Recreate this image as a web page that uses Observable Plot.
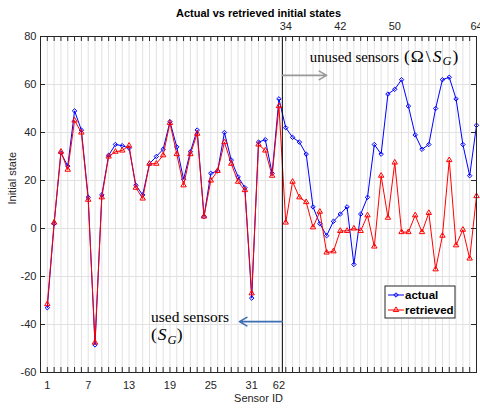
<!DOCTYPE html>
<html><head><meta charset="utf-8">
<script src="https://cdn.jsdelivr.net/npm/d3@7"></script>
<script src="https://cdn.jsdelivr.net/npm/@observablehq/plot@0.6"></script>
<style>body{margin:0;background:#fff}</style>
</head><body><div id="chart"></div>
<script>
// ---- data ----
const sensorIndex = d3.range(1, 65);
const actual = [-33, 2, 31.5, 26, 49, 41, 13, -48.5, 14, 30.5,
  35, 34.5, 33.5, 18, 14, 27, 30, 33, 44.5, 34,
  20.5, 32, 41, 5, 23, 24, 40, 28.5, 21.5, 17,
  -29, 36, 37, 23, 54, 42, 38, 36, 31, 9,
  2, -3, 3, 6, 9, -15, 6, 13, 35, 31,
  56, 58, 62, 51, 39, 33, 35, 50, 62, 63,
  54, 35, 22, 43];
const retrieved = [-31.5, 2.5, 32, 24.5, 45, 40, 12, -47.5, 13, 30,
  32, 32.5, 34.5, 17, 12.5, 27, 27, 30.5, 44, 31,
  18, 31, 39.5, 5, 20, 24, 36, 27, 19.5, 16,
  -27, 35, 32.5, 22, 51, 2.5, 19.5, 13, 11, 0.5,
  7, -10, -9.5, -1, -1, 0, -1, 5.5, -7.5, 22,
  4.5, 27.5, -1.5, -1.5, 5.5, -1.5, 6.5, -17, -3, 28.5,
  -7, -0.5, -12.5, 13.5];
const usedCount = 35;
const bottomTicks = [1, 7, 13, 19, 25, 31, 35];
const bottomLabels = ["1", "7", "13", "19", "25", "31", "62"];
const topTicks = [36, 44, 52, 64];
const topLabels = ["34", "42", "50", "64"];
const yTicks = [-60, -40, -20, 0, 20, 40, 60, 80];
const seriesNames = ["actual", "retrieved"];

// ---- layout ----
const W = 480, H = 412, mt = 36, mb = 40, ml = 40, mr = 4;
const innerW = W - ml - mr, innerH = H - mt - mb;
const axisColor = "#262626", gridColor = "#e2e2e2";
const blue = "#0000ff", red = "#ff0000";
const markR = 2;
const boundary = usedCount + 0.5;
const data = sensorIndex.map((s, i) => ({s, actual: actual[i], retrieved: retrieved[i]}));

const plot = Plot.plot({
  width: W, height: H,
  marginTop: mt, marginBottom: mb, marginLeft: ml, marginRight: mr,
  style: {fontFamily: "'Liberation Sans', Arial, sans-serif", fontSize: "11px", color: axisColor, background: "#fff"},
  x: {domain: [0, 64], axis: null},
  y: {domain: [-60, 80], axis: null},
  marks: [
    Plot.ruleX(sensorIndex, {x: d => d, stroke: gridColor}),
    Plot.ruleY(yTicks, {y: d => d, stroke: gridColor}),
    Plot.line(data, {x: "s", y: "actual", stroke: blue, strokeWidth: 1}),
    Plot.dot(data, {x: "s", y: "actual", symbol: "diamond2", r: markR, stroke: blue, fill: "none", strokeWidth: 1}),
    Plot.line(data, {x: "s", y: "retrieved", stroke: red, strokeWidth: 1}),
    Plot.dot(data, {x: "s", y: "retrieved", symbol: "triangle", r: markR, stroke: red, fill: "none", strokeWidth: 1}),
    Plot.ruleX([boundary], {x: d => d, stroke: "#000", strokeWidth: 1}),
    Plot.frame({stroke: axisColor}),
    Plot.tickX(sensorIndex, {x: d => d, insetTop: innerH - 5, stroke: axisColor}),
    Plot.tickX(sensorIndex, {x: d => d, insetBottom: innerH - 5, stroke: axisColor}),
    Plot.tickY(yTicks, {y: d => d, insetRight: innerW - 5, stroke: axisColor}),
    Plot.tickY(yTicks, {y: d => d, insetLeft: innerW - 5, stroke: axisColor}),
    Plot.axisX({anchor: "bottom", ticks: bottomTicks, tickFormat: d => bottomLabels[bottomTicks.indexOf(d)], tickSize: 0, tickPadding: 9, label: null}),
    Plot.axisX({anchor: "top", ticks: topTicks, tickFormat: d => topLabels[topTicks.indexOf(d)], tickSize: 0, tickPadding: 7, label: null}),
    Plot.axisY({anchor: "left", ticks: yTicks, tickFormat: d => String(d), tickSize: 0, tickPadding: 4, label: null}),
    Plot.arrow([{x1: boundary, x2: boundary + 6.5, y: 63.8}], {x1: "x1", x2: "x2", y1: "y", y2: "y", stroke: "#999999", strokeWidth: 1.6, headLength: 8}),
    Plot.arrow([{x1: boundary, x2: boundary - 6.3, y: -38.8}], {x1: "x1", x2: "x2", y1: "y", y2: "y", stroke: "#3c6eb4", strokeWidth: 1.6, headLength: 8}),
    Plot.text(["Actual vs retrieved initial states"], {text: d => d, frameAnchor: "top", dy: -27, fontWeight: "bold", fontSize: 11, fill: "#000"}),
    Plot.text(["Sensor ID"], {text: d => d, frameAnchor: "bottom", dy: 29, fontSize: 11}),
    Plot.text(["Initial state"], {text: d => d, frameAnchor: "left", dx: -28, rotate: -90, fontSize: 11})
  ]
});
document.getElementById("chart").appendChild(plot);

// ---- LaTeX-like annotations ----
const sx = plot.scale("x"), sy = plot.scale("y");
const svg = d3.select(plot);
function latex(x, y, size, parts) {
  const t = svg.append("text").attr("x", x).attr("y", y)
    .attr("text-anchor", "start")
    .attr("font-family", "'Liberation Serif', 'DejaVu Serif', serif")
    .attr("font-size", size).attr("fill", "#000");
  parts.forEach(p => {
    const ts = t.append("tspan").text(p.t);
    if (p.math) ts.attr("font-size", 17.5).attr("letter-spacing", 1);
    if (p.it) ts.attr("font-style", "italic");
    if (p.dx) ts.attr("dx", p.dx);
    if (p.sub) ts.attr("font-size", 12.5).attr("dy", 3.5);
    if (p.back) ts.attr("dy", -3.5);
  });
}
latex(sx.apply(boundary + 4.1), sy.apply(69.3), 14.8, [
  {t: "unused sensors"}, {t: "(Ω", math: true, dx: 5}, {t: "\\", math: true, dx: 1}, {t: "S", it: true, math: true, dx: 1},
  {t: "G", it: true, sub: true}, {t: ")", math: true, back: true, dx: 1}
]);
latex(sx.apply(16.3), sy.apply(-39.2), 15.5, [{t: "used sensors"}]);
latex(sx.apply(16.3), sy.apply(-46.8), 15.5, [
  {t: "(", math: true}, {t: "S", it: true, math: true}, {t: "G", it: true, sub: true}, {t: ")", math: true, back: true}
]);

// ---- legend ----
const lg = svg.append("g").attr("transform", "translate(385,286)");
lg.append("rect").attr("width", 70).attr("height", 32).attr("fill", "#fff").attr("stroke", axisColor).attr("stroke-width", 1);
const legendSymbols = [d3.symbolDiamond2, d3.symbolTriangle];
const legendColors = [blue, red];
seriesNames.forEach((name, i) => {
  const yy = 9 + i * 15;
  lg.append("line").attr("x1", 3).attr("x2", 19).attr("y1", yy).attr("y2", yy).attr("stroke", legendColors[i]);
  lg.append("path").attr("d", d3.symbol(legendSymbols[i], Math.PI * markR * markR)()).attr("transform", `translate(11,${yy})`)
    .attr("fill", "none").attr("stroke", legendColors[i]);
  lg.append("text").attr("x", 20).attr("y", yy).attr("dy", "0.35em").attr("text-anchor", "start").attr("font-weight", "bold")
    .attr("font-size", 11.5).attr("fill", "#000").text(name);
});
</script></body></html>
